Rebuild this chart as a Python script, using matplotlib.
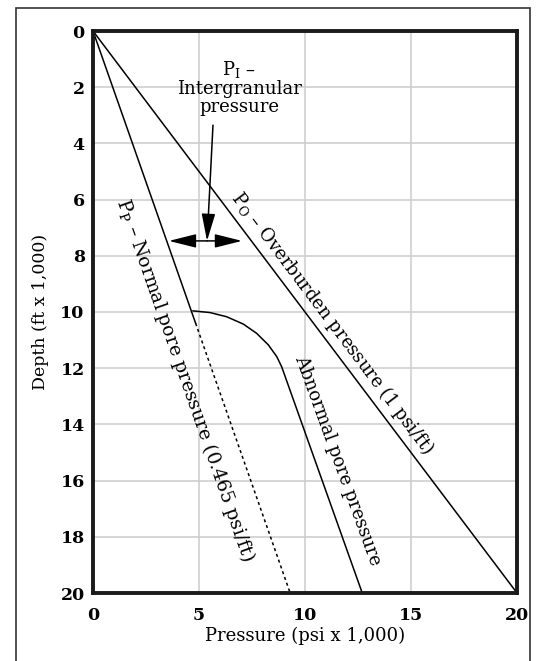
import matplotlib.pyplot as plt
from matplotlib.patches import Rectangle

plt.rcParams['font.family'] = 'DejaVu Serif'
plt.rcParams['mathtext.fontset'] = 'dejavuserif'

# pressure (psi x 1,000) vs depth (ft x 1,000)
overburden_p = [0, 20]
overburden_d = [0, 20]
normal_p = [0, 4.84]
normal_d = [0, 10.4]
normal_ext_p = [4.84, 9.3]
normal_ext_d = [10.4, 20]
abnormal_p = [4.72, 5.52, 6.31, 7.09, 7.72, 8.27, 8.67, 8.90, 12.7]
abnormal_d = [9.96, 10.02, 10.17, 10.43, 10.76, 11.17, 11.59, 11.95, 20]

x_ticks = [0, 5, 10, 15, 20]
y_ticks = [0, 2, 4, 6, 8, 10, 12, 14, 16, 18, 20]

fig = plt.figure(figsize=(5.36, 6.61), dpi=100)
ax = fig.add_axes([93/536, 68/661, 424/536, 562/661])

ax.plot(overburden_p, overburden_d, color='black', lw=1.1)
ax.plot(normal_p, normal_d, color='black', lw=1.1)
ax.plot(normal_ext_p, normal_ext_d, color='black', lw=1.1, linestyle=(0, (2, 2)))
ax.plot(abnormal_p, abnormal_d, color='black', lw=1.1)

ax.set_xlim(0, 20)
ax.set_ylim(20, 0)
ax.set_xticks(x_ticks)
ax.set_yticks(y_ticks)
ax.grid(True, color='#cccccc', lw=1.1)
ax.set_axisbelow(True)
ax.tick_params(length=0, labelsize=12.5)
ax.tick_params(axis='x', pad=10)
ax.tick_params(axis='y', pad=6)
for lab in ax.get_xticklabels() + ax.get_yticklabels():
    lab.set_fontweight('bold')
for s in ax.spines.values():
    s.set_linewidth(2.8)
    s.set_color('#1a1a1a')

ax.set_xlabel('Pressure (psi x 1,000)', fontsize=13, labelpad=2)
ax.set_ylabel('Depth (ft x 1,000)', fontsize=12.5, labelpad=8)

# arrows for intergranular pressure
style = '-|>,head_length=1.2,head_width=0.3'
mid = (5.38, 7.47)
ax.annotate('', xy=(3.58, 7.47), xytext=mid,
            arrowprops=dict(arrowstyle=style, color='black', lw=1.1,
                            mutation_scale=14, shrinkA=0, shrinkB=0))
ax.annotate('', xy=(7.03, 7.47), xytext=mid,
            arrowprops=dict(arrowstyle=style, color='black', lw=1.1,
                            mutation_scale=14, shrinkA=0, shrinkB=0))
ax.annotate('', xy=mid, xytext=(5.66, 3.35),
            arrowprops=dict(arrowstyle=style, color='black', lw=1.1,
                            mutation_scale=14, shrinkA=0, shrinkB=0))

ax.text(6.9, 2.0, 'P$_\\mathrm{I}$ –\nIntergranular\npressure', ha='center', va='center',
        fontsize=13, linespacing=1.0)

ax.text(11.28, 10.38, 'P$_\\mathrm{O}$ – Overburden pressure (1 psi/ft)', rotation=-53,
        rotation_mode='anchor', ha='center', va='center', fontsize=13)
ax.text(4.34, 12.42, 'P$_\\mathrm{P}$ – Normal pore pressure (0.465 psi/ft)', rotation=-70.7,
        rotation_mode='anchor', ha='center', va='center', fontsize=13.5)
ax.text(11.56, 15.27, 'Abnormal pore pressure', rotation=-70,
        rotation_mode='anchor', ha='center', va='center', fontsize=13)

fig.add_artist(Rectangle((16/536, -0.05), 514/536, 1 - 8/661 + 0.05,
                         transform=fig.transFigure, fill=False, lw=1.2, ec='#333333'))

fig.savefig('out.png', dpi=100)
